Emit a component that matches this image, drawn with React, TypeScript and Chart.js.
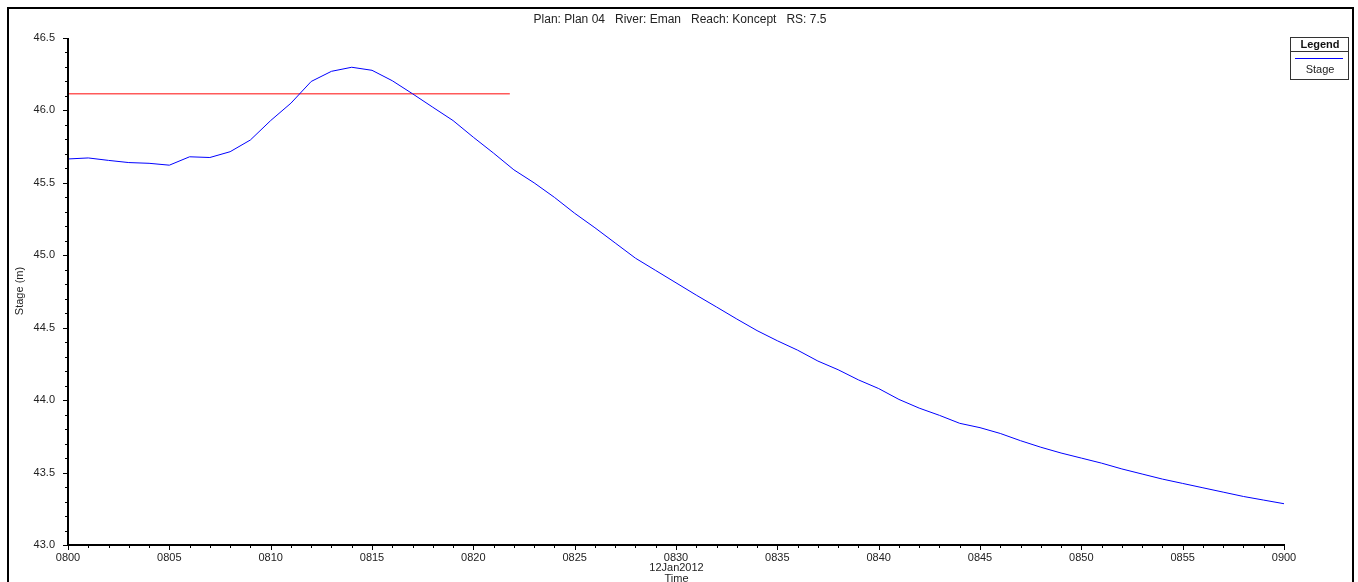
import React, { useEffect, useRef } from "react";
import { Chart, registerables } from "chart.js";

Chart.register(...registerables);

const TITLE = "Plan: Plan 04   River: Eman   Reach: Koncept   RS: 7.5";
const yTitle = "Stage (m)";
const xTitle = "Time";
const dateLabel = "12Jan2012";
const legendTitle = "Legend";
const seriesName = "Stage";

// minutes after 08:00
const minutes = [
  0, 1, 2, 3, 4, 5, 6, 7, 8, 9, 10, 11, 12, 13, 14, 15, 16, 17, 18, 19, 20,
  21, 22, 23, 24, 25, 26, 27, 28, 29, 30, 31, 32, 33, 34, 35, 36, 37, 38, 39,
  40, 41, 42, 43, 44, 45, 46, 47, 48, 49, 50, 51, 52, 53, 54, 55, 56, 57, 58,
  59, 60,
];
const stage = [
  45.665, 45.672, 45.655, 45.64, 45.635, 45.622, 45.68, 45.675, 45.715, 45.796,
  45.93, 46.05, 46.2, 46.27, 46.298, 46.277, 46.205, 46.115, 46.022, 45.93,
  45.815, 45.705, 45.59, 45.5, 45.4, 45.29, 45.19, 45.085, 44.98, 44.895,
  44.81, 44.725, 44.643, 44.56, 44.48, 44.41, 44.345, 44.27, 44.21, 44.14,
  44.08, 44.005, 43.945, 43.895, 43.84, 43.81, 43.77, 43.72, 43.675, 43.635,
  43.6, 43.565, 43.525, 43.49, 43.455, 43.425, 43.395, 43.365, 43.335, 43.31,
  43.285,
];

// red reference line
const refLineMinutes = [0, 21.8];
const refLineStage = [46.115, 46.115];

const xTickLabels = [
  "0800", "0805", "0810", "0815", "0820", "0825", "0830",
  "0835", "0840", "0845", "0850", "0855", "0900",
];
const yTickLabels = ["43.0", "43.5", "44.0", "44.5", "45.0", "45.5", "46.0", "46.5"];

const FONT = '"Liberation Sans", Arial, sans-serif';

export default function App() {
  const canvasRef = useRef<HTMLCanvasElement | null>(null);

  useEffect(() => {
    const canvas = canvasRef.current;
    if (!canvas) return;

    const decor = {
      id: "decor",
      afterDraw(chart: any) {
        const ctx = chart.ctx as CanvasRenderingContext2D;
        const { left, right, top, bottom } = chart.chartArea;
        const xs = chart.scales.x;
        const ys = chart.scales.y;
        ctx.save();
        ctx.fillStyle = "#000";
        // outer frame
        ctx.fillRect(7, 7, 1347, 2);
        ctx.fillRect(7, 7, 2, 575);
        ctx.fillRect(1352, 7, 2, 575);
        // axes
        ctx.fillRect(left - 1, top, 2, bottom - top + 1);
        ctx.fillRect(left - 1, bottom - 1, right - left + 2, 2);
        // y ticks
        ys.ticks.forEach((t: any) => {
          const p = Math.round(ys.getPixelForValue(t.value));
          const major = t.label !== "";
          const len = major ? 4 : 2;
          ctx.fillRect(left - 1 - len, p, len, 1);
        });
        // x ticks
        xs.ticks.forEach((t: any) => {
          const p = Math.round(xs.getPixelForValue(t.value));
          const major = t.label !== "";
          const len = major ? 4 : 2;
          ctx.fillRect(p, bottom + 1, 1, len);
        });

        ctx.fillStyle = "#222";
        ctx.textBaseline = "middle";
        ctx.textAlign = "center";
        // title
        ctx.font = `12px ${FONT}`;
        ctx.fillText(TITLE, 680, 20);

        // y title
        ctx.font = `11px ${FONT}`;
        ctx.save();
        ctx.translate(20, 291);
        ctx.rotate(-Math.PI / 2);
        ctx.fillText(yTitle, 0, 0);
        ctx.restore();

        // date + x title under center tick
        const cx = xs.getPixelForValue(30) + 0.5;
        ctx.fillStyle = "#fff";
        ctx.fillRect(cx - 30, 561, 60, 12);
        ctx.fillStyle = "#222";
        ctx.fillText(dateLabel, cx, 568);
        ctx.fillStyle = "#fff";
        ctx.fillRect(cx - 14, 573, 28, 9);
        ctx.fillStyle = "#222";
        ctx.fillText(xTitle, cx, 579);

        // legend box
        ctx.strokeStyle = "#333";
        ctx.lineWidth = 1;
        ctx.strokeRect(1290.5, 37.5, 58, 42);
        ctx.beginPath();
        ctx.moveTo(1290, 51.5);
        ctx.lineTo(1349, 51.5);
        ctx.stroke();
        ctx.font = `bold 11px ${FONT}`;
        ctx.fillStyle = "#111";
        ctx.fillText(legendTitle, 1320, 44.5);
        ctx.strokeStyle = "#0000ff";
        ctx.beginPath();
        ctx.moveTo(1295, 58.5);
        ctx.lineTo(1343, 58.5);
        ctx.stroke();
        ctx.font = `11px ${FONT}`;
        ctx.fillStyle = "#222";
        ctx.fillText(seriesName, 1320, 69.5);
        ctx.restore();
      },
    };

    const chart = new Chart(canvas, {
      type: "line",
      data: {
        datasets: [
          {
            label: seriesName,
            data: minutes.map((m, i) => ({ x: m, y: stage[i] })),
            borderColor: "#0000ff",
            borderWidth: 1,
            pointRadius: 0,
            tension: 0,
            fill: false,
          },
          {
            label: "ref",
            data: refLineMinutes.map((m, i) => ({ x: m, y: refLineStage[i] })),
            borderColor: "#ff5a5a",
            borderWidth: 1.6,
            pointRadius: 0,
            tension: 0,
            fill: false,
          },
        ],
      },
      options: {
        animation: false,
        responsive: false,
        maintainAspectRatio: false,
        layout: { padding: { left: 0, top: 38, right: 74, bottom: 0 } },
        plugins: {
          legend: { display: false },
          title: { display: false },
          tooltip: { enabled: false },
        },
        scales: {
          x: {
            type: "linear",
            min: 0,
            max: 60,
            grid: { display: false },
            border: { display: false },
            afterFit: (scale: any) => {
              scale.height = 37;
            },
            ticks: {
              stepSize: 1,
              autoSkip: false,
              maxRotation: 0,
              minRotation: 0,
              padding: -2,
              color: "#222",
              font: { family: FONT, size: 11 },
              callback: (value: any) => {
                const v = Number(value);
                const m = Math.round(v);
                if (Math.abs(v - m) < 1e-6 && m % 5 === 0) return xTickLabels[m / 5];
                return "";
              },
            },
          },
          y: {
            type: "linear",
            min: 43,
            max: 46.5,
            grid: { display: false },
            border: { display: false },
            afterFit: (scale: any) => {
              scale.width = 68;
            },
            ticks: {
              stepSize: 0.1,
              autoSkip: false,
              padding: 5,
              color: "#222",
              font: { family: FONT, size: 11 },
              callback: (value: any) => {
                const k = Math.round((Number(value) - 43) * 10);
                if (k % 5 === 0) return yTickLabels[k / 5];
                return "";
              },
            },
          },
        },
      },
      plugins: [decor],
    });

    return () => chart.destroy();
  }, []);

  return (
    <div
      style={{
        position: "absolute",
        left: 0,
        top: 0,
        width: 1358,
        height: 582,
        overflow: "hidden",
        background: "#fff",
      }}
    >
      <canvas ref={canvasRef} width={1358} height={582} style={{ display: "block" }} />
    </div>
  );
}
